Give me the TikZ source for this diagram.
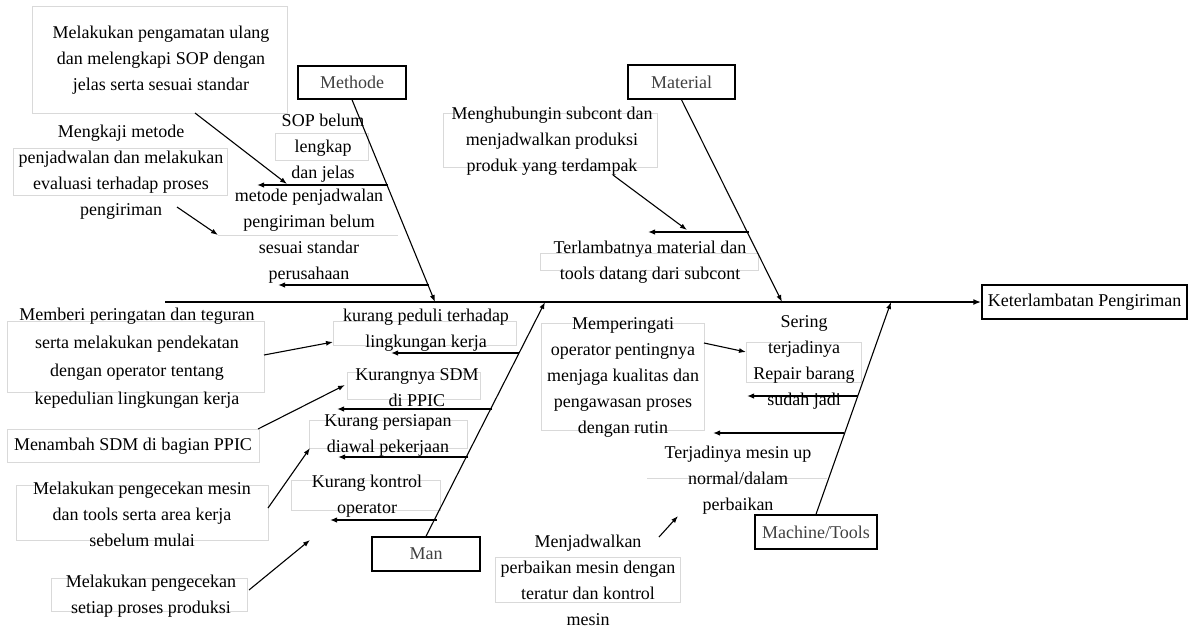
\documentclass[tikz,border=0pt]{standalone}
\usepackage{fontspec}
\setmainfont{Liberation Serif}
\usetikzlibrary{arrows.meta}
\begin{document}
\begin{tikzpicture}[x=1pt,y=-1pt,
 txt/.style={font=\fontsize{18}{26}\selectfont, align=center, inner sep=0pt},
 gbox/.style={draw=black!15, line width=0.8pt},
 cat/.style={draw, line width=1.5pt, inner sep=0pt, font=\fontsize{18}{20}\selectfont, text=black!75},
 spineline/.style={line width=1.6pt, -{Latex[length=8pt,width=6pt]}},
 arr/.style={line width=1.1pt, -{Latex[length=7pt,width=5pt]}},
 causeline/.style={line width=1.4pt, -{Latex[length=7pt,width=5.5pt]}},
]
\useasboundingbox (0,0) rectangle (1189,630);
% faint text frames
\draw[gbox] (32,6) rectangle (287,113);
\draw[gbox] (13,148) rectangle (227,195);
\draw[gbox] (275,133) rectangle (368,160);
\draw[gbox] (218,235) -- (398,235);
\draw[gbox] (443,113) rectangle (657,167);
\draw[gbox] (540,253) rectangle (758,270);
\draw[gbox] (7,321) rectangle (264,392);
\draw[gbox] (333,321) rectangle (516,345);
\draw[gbox] (347,372) rectangle (480,399);
\draw[gbox] (7,429) rectangle (259,462);
\draw[gbox] (309,420) rectangle (467,448);
\draw[gbox] (16,485) rectangle (268,540);
\draw[gbox] (291,480) rectangle (440,510);
\draw[gbox] (51,578) rectangle (247,611);
\draw[gbox] (541,323) rectangle (704,430);
\draw[gbox] (746,342) rectangle (861,382);
\draw[gbox] (647,478) -- (827,478);
\draw[gbox] (495,557) rectangle (680,602);

% category and effect boxes
\node[cat, minimum width=108pt, minimum height=33pt] (methode) at (352,82.5) {Methode};
\node[cat, minimum width=107pt, minimum height=34pt] (material) at (681.5,82) {Material};
\node[cat, minimum width=108pt, minimum height=34pt] (man) at (426,554) {Man};
\node[cat, minimum width=122pt, minimum height=34pt] (machine) at (816,532) {Machine/Tools};
\node[cat, text=black, minimum width=205pt, minimum height=34pt] (effect) at (1084.5,302) {Keterlambatan Pengiriman};

% spine and bones
\coordinate (sp0) at (165,302);
\draw[spineline] (sp0) -- (effect.west);
\coordinate (mE) at (435,302);
\coordinate (matE) at (782,302);
\coordinate (manE) at (545,302);
\coordinate (macE) at (891,302);
\draw[arr] (methode.south) -- (mE);
\draw[arr] (material.south) -- (matE);
\draw[arr] (man.north) -- (manE);
\draw[arr] (machine.north) -- (macE);

% cause lines
\coordinate (a1) at (388,185); \coordinate (b1) at (257,185);
\coordinate (a2) at (429,285); \coordinate (b2) at (278,285);
\coordinate (a3) at (749,232); \coordinate (b3) at (648,232);
\coordinate (a4) at (519,353); \coordinate (b4) at (391,353);
\coordinate (a5) at (492,409); \coordinate (b5) at (337,409);
\coordinate (a6) at (468,457); \coordinate (b6) at (338,457);
\coordinate (a7) at (437,520); \coordinate (b7) at (330,520);
\coordinate (a8) at (858,396); \coordinate (b8) at (747,396);
\coordinate (a9) at (844,433); \coordinate (b9) at (713,433);
\foreach \i in {1,...,9} {\draw[causeline] (a\i) -- (b\i);}

% texts
\node[txt] (t1) at (161,60) {Melakukan pengamatan ulang\\dan melengkapi SOP dengan\\jelas serta sesuai standar};
\node[txt] (t2) at (121,172) {Mengkaji metode\\penjadwalan dan melakukan\\evaluasi terhadap proses\\pengiriman};
\node[txt] (c1) at (323,148) {SOP belum\\lengkap\\dan jelas};
\node[txt] (c2) at (309,236) {metode penjadwalan\\pengiriman belum\\sesuai standar\\perusahaan};
\node[txt] (t3) at (552,141) {Menghubungin subcont dan\\menjadwalkan produksi\\produk yang terdampak};
\node[txt] (c3) at (650,262) {Terlambatnya material dan\\tools datang dari subcont};
\node[txt, font=\fontsize{18}{28}\selectfont] (t4) at (137,358) {Memberi peringatan dan teguran\\serta melakukan pendekatan\\dengan operator tentang\\kepedulian lingkungan kerja};
\node[txt] (c4) at (426,330) {kurang peduli terhadap\\lingkungan kerja};
\node[txt] (c5) at (417,388) {Kurangnya SDM\\di PPIC};
\node[txt] (t5) at (133,446) {Menambah SDM di bagian PPIC};
\node[txt] (c6) at (388,435) {Kurang persiapan\\diawal pekerjaan};
\node[txt] (t6) at (142,514) {Melakukan pengecekan mesin\\dan tools serta area kerja\\sebelum mulai};
\node[txt] (c7) at (367,496) {Kurang kontrol\\operator};
\node[txt] (t7) at (151,596) {Melakukan pengecekan\\setiap proses produksi};
\node[txt] (t8) at (623,377) {Memperingati\\operator pentingnya\\menjaga kualitas dan\\pengawasan proses\\dengan rutin};
\node[txt] (c8) at (804,362) {Sering\\terjadinya\\Repair barang\\sudah jadi};
\node[txt] (c9) at (738,480) {Terjadinya mesin up\\normal/dalam\\perbaikan};
\node[txt] (t9) at (588,580) {Menjadwalkan\\perbaikan mesin dengan\\teratur dan kontrol\\mesin};

% solution arrows
\coordinate (s1a) at (195,113); \coordinate (s1b) at (287,184);
\coordinate (s2a) at (177,207); \coordinate (s2b) at (218,235);
\coordinate (s3a) at (613,175); \coordinate (s3b) at (687,230);
\coordinate (s4a) at (264,355); \coordinate (s4b) at (333,342);
\coordinate (s5a) at (258,429); \coordinate (s5b) at (345,385);
\coordinate (s6a) at (268,508); \coordinate (s6b) at (310,448);
\coordinate (s7a) at (249,590); \coordinate (s7b) at (310,540);
\coordinate (s8a) at (704,343); \coordinate (s8b) at (746,352);
\coordinate (s9a) at (659,537); \coordinate (s9b) at (678,516);
\foreach \i in {1,...,9} {\draw[arr] (s\i a) -- (s\i b);}
\end{tikzpicture}
\end{document}
